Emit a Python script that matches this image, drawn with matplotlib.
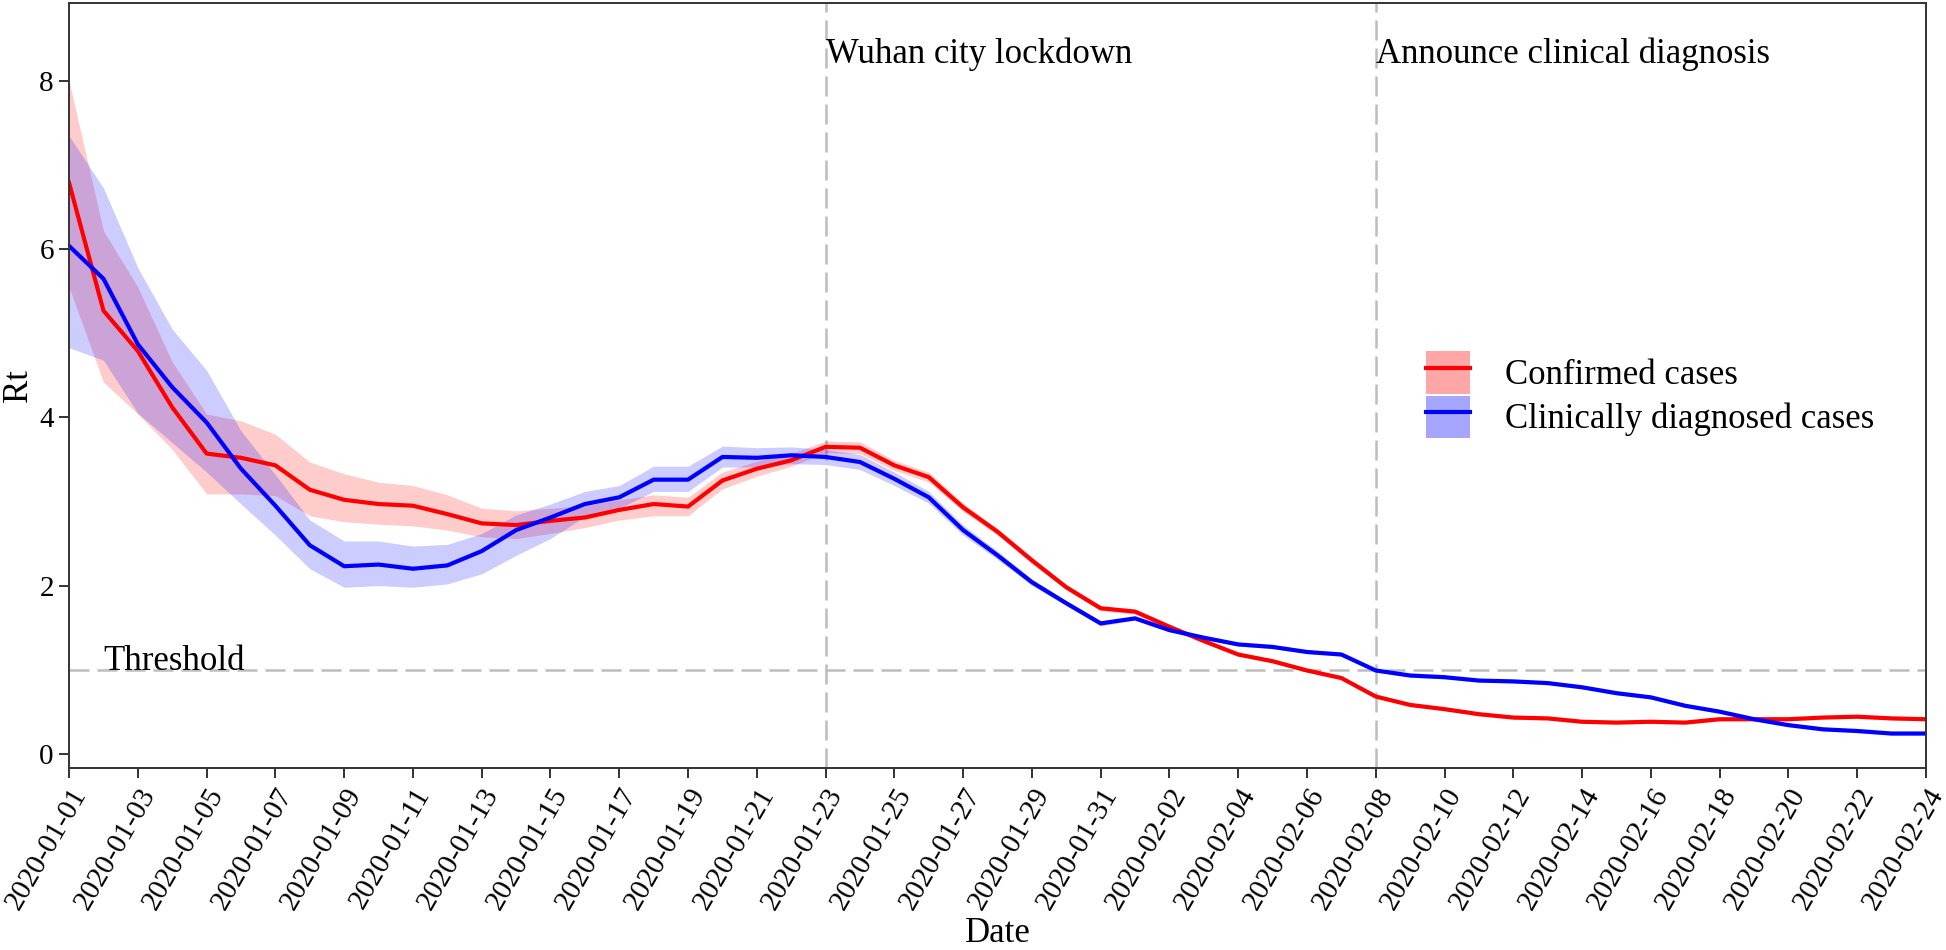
import numpy as np
import pandas as pd
import matplotlib
matplotlib.use("Agg")
import matplotlib.pyplot as plt
import matplotlib.dates as mdates
from matplotlib.patches import Patch
from matplotlib.lines import Line2D

plt.rcParams['font.family'] = ['Liberation Serif', 'DejaVu Serif']

dates = pd.date_range("2020-01-01", "2020-02-24", freq="D")

# confirmed cases: Rt and its interval
conf_rt = [6.79, 5.27, 4.79, 4.12, 3.57, 3.52, 3.43, 3.14, 3.02, 2.97,
           2.95, 2.85, 2.74, 2.72, 2.77, 2.81, 2.90, 2.97, 2.94, 3.25,
           3.39, 3.49, 3.65, 3.64, 3.43, 3.29, 2.93, 2.64, 2.30, 1.98,
           1.73, 1.69, 1.51, 1.34, 1.18, 1.10, 0.99, 0.90, 0.68, 0.58,
           0.53, 0.47, 0.43, 0.42, 0.38, 0.37, 0.38, 0.37, 0.41, 0.41,
           0.41, 0.43, 0.44, 0.42, 0.41]
conf_lo = [5.55, 4.42, 4.04, 3.62, 3.09, 3.09, 3.07, 2.83, 2.76, 2.73,
           2.71, 2.66, 2.58, 2.56, 2.62, 2.69, 2.78, 2.83, 2.83, 3.15,
           3.30, 3.42, 3.58, 3.57, 3.37, 3.23, 2.88, 2.60, 2.26, 1.95,
           1.70, 1.66, 1.48, 1.32, 1.16, 1.08, 0.97, 0.88, 0.66, 0.56,
           0.51, 0.45, 0.41, 0.40, 0.36, 0.35, 0.36, 0.35, 0.39, 0.39,
           0.39, 0.41, 0.42, 0.40, 0.39]
conf_hi = [8.00, 6.22, 5.55, 4.66, 4.04, 3.96, 3.80, 3.47, 3.33, 3.23,
           3.19, 3.08, 2.92, 2.89, 2.92, 2.95, 3.02, 3.08, 3.05, 3.35,
           3.48, 3.57, 3.72, 3.71, 3.49, 3.35, 2.98, 2.68, 2.34, 2.01,
           1.76, 1.72, 1.54, 1.36, 1.20, 1.12, 1.01, 0.92, 0.70, 0.60,
           0.55, 0.49, 0.45, 0.44, 0.40, 0.39, 0.40, 0.39, 0.43, 0.43,
           0.43, 0.45, 0.46, 0.44, 0.43]

# clinically diagnosed cases
clin_rt = [6.04, 5.65, 4.87, 4.36, 3.94, 3.39, 2.95, 2.48, 2.23, 2.25,
           2.20, 2.24, 2.41, 2.66, 2.81, 2.97, 3.05, 3.26, 3.26, 3.53,
           3.52, 3.55, 3.53, 3.47, 3.27, 3.05, 2.66, 2.36, 2.04, 1.79,
           1.55, 1.61, 1.47, 1.38, 1.30, 1.27, 1.21, 1.18, 0.99, 0.93,
           0.91, 0.87, 0.86, 0.84, 0.79, 0.72, 0.67, 0.57, 0.50, 0.41,
           0.34, 0.29, 0.27, 0.24, 0.24]
clin_lo = [4.83, 4.68, 4.05, 3.70, 3.35, 2.97, 2.60, 2.20, 1.98, 2.00,
           1.98, 2.02, 2.14, 2.36, 2.56, 2.82, 2.92, 3.12, 3.12, 3.41,
           3.41, 3.45, 3.44, 3.38, 3.19, 2.98, 2.60, 2.31, 2.00, 1.76,
           1.52, 1.59, 1.45, 1.36, 1.28, 1.25, 1.19, 1.16, 0.97, 0.91,
           0.89, 0.85, 0.84, 0.82, 0.77, 0.70, 0.65, 0.55, 0.48, 0.39,
           0.32, 0.27, 0.25, 0.22, 0.22]
clin_hi = [7.35, 6.73, 5.78, 5.05, 4.56, 3.84, 3.32, 2.78, 2.53, 2.53,
           2.47, 2.49, 2.62, 2.84, 2.97, 3.12, 3.19, 3.42, 3.42, 3.66,
           3.64, 3.65, 3.62, 3.56, 3.35, 3.12, 2.72, 2.41, 2.08, 1.82,
           1.58, 1.63, 1.49, 1.40, 1.32, 1.29, 1.23, 1.20, 1.01, 0.95,
           0.93, 0.89, 0.88, 0.86, 0.81, 0.74, 0.69, 0.59, 0.52, 0.43,
           0.36, 0.31, 0.29, 0.26, 0.26]

threshold = 1
events = ["2020-01-23", "2020-02-08"]
event_labels = ["Wuhan city lockdown", "Announce clinical diagnosis"]
series_labels = ["Confirmed cases", "Clinically diagnosed cases"]

fig = plt.figure(figsize=(19.46, 9.5), dpi=100)
ax = fig.add_axes([0.0355, 0.1916, 0.9542, 0.8052])

ax.fill_between(dates, conf_lo, conf_hi, color="red", alpha=0.2, lw=0)
ax.plot(dates, conf_rt, color="red", lw=3)
ax.fill_between(dates, clin_lo, clin_hi, color="blue", alpha=0.2, lw=0)
ax.plot(dates, clin_rt, color="blue", lw=3)

grey = "#bdbdbd"
ax.axhline(threshold, color=grey, lw=1.8, dashes=(8, 3.2), zorder=0.5)
for d in events:
    ax.axvline(pd.Timestamp(d), color=grey, lw=1.8, dashes=(8, 3.2), zorder=0.5)

ax.text(pd.Timestamp("2020-01-02"), threshold, "Threshold", fontsize=25,
        ha="left", va="baseline")
for d, t in zip(events, event_labels):
    ax.text(pd.Timestamp(d), 8.22, t, fontsize=25, ha="left", va="baseline")

ax.set_xlim(dates[0], dates[-1])
ax.set_ylim(-0.17, 8.93)
ax.set_yticks([0, 2, 4, 6, 8])
ax.set_xticks(dates[::2])
ax.xaxis.set_major_formatter(mdates.DateFormatter("%Y-%m-%d"))
for lab in ax.get_xticklabels():
    lab.set_rotation(60)
    lab.set_ha("right")
    lab.set_va("top")
    lab.set_rotation_mode("anchor")
ax.tick_params(labelsize=21, length=7, width=1.4, color="#333333",
               labelcolor="black", pad=4)
for s in ax.spines.values():
    s.set_color("#333333")
    s.set_linewidth(1.4)

ax.set_xlabel("Date", fontsize=25, labelpad=2)
ax.set_ylabel("Rt", fontsize=25, labelpad=3)

handles = [(Patch(facecolor="red", alpha=0.35, lw=0), Line2D([], [], color="red", lw=3)),
           (Patch(facecolor="blue", alpha=0.35, lw=0), Line2D([], [], color="blue", lw=3))]
ax.legend(handles, series_labels, loc="center left", bbox_to_anchor=(0.731, 0.488),
          frameon=False, fontsize=25, handlelength=1.25, handleheight=1.5,
          labelspacing=0.05, handletextpad=1.0, borderpad=0, borderaxespad=0)

fig.savefig("out.png", dpi=100)
